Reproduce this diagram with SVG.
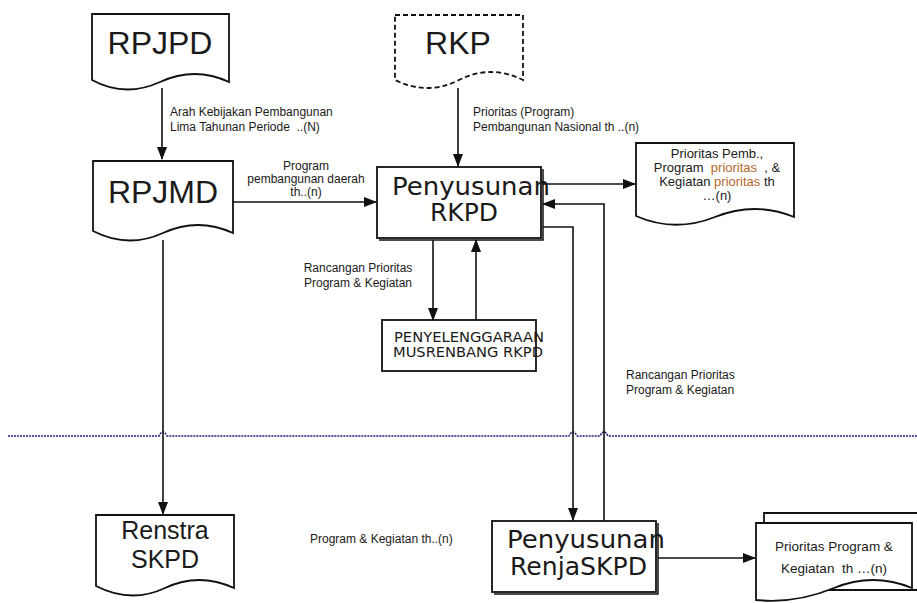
<svg xmlns="http://www.w3.org/2000/svg" width="917" height="603" viewBox="0 0 917 603">
<style>
.doc{fill:#fff;stroke:#111;stroke-width:1.8}
.box{fill:#fff;stroke:#111;stroke-width:1.8}
.sh{fill:none;stroke:#111;stroke-width:1.5}
.big{font-family:"Liberation Sans",Arial,sans-serif;font-size:32px;fill:#1a1a1a}
.ren{font-family:"Liberation Sans",Arial,sans-serif;font-size:25px;fill:#1a1a1a}
.mid{font-family:"Liberation Sans",Arial,sans-serif;font-size:13px;fill:#1a1a1a}
.mid2{font-family:"Liberation Sans",Arial,sans-serif;font-size:13.5px;fill:#1a1a1a}
.lbl{font-family:"Liberation Sans",Arial,sans-serif;font-size:12px;fill:#1a1a1a}
.dv{font-family:"DejaVu Sans",sans-serif;fill:#1a1a1a}
.or{fill:#b5682e}
.con{fill:none;stroke:#111;stroke-width:1.6}
</style>
<defs>
<marker id="ar" markerWidth="13" markerHeight="10" refX="12" refY="5" orient="auto" markerUnits="userSpaceOnUse">
<path d="M0,0 L13,5 L0,10 Z" fill="#111"/>
</marker>
</defs>
<rect width="917" height="603" fill="#fff"/>

<g id="divider">
<path d="M8,436 H159 Q163,428 167,436 H569 Q573,428 577,436 H600 Q604,428 608,436 H917" fill="none" stroke="#1c1c7a" stroke-width="1.6" stroke-dasharray="2,1"/>
</g>

<g id="connectors">
<path class="con" d="M162,88 V159" marker-end="url(#ar)"/>
<path class="con" d="M458,88 V166" marker-end="url(#ar)"/>
<path class="con" d="M233,202 H376" marker-end="url(#ar)"/>
<path class="con" d="M542,184 H635" marker-end="url(#ar)"/>
<path class="con" d="M433,240 V320" marker-end="url(#ar)"/>
<path class="con" d="M476,320 V240" marker-end="url(#ar)"/>
<path class="con" d="M163,240 V514" marker-end="url(#ar)"/>
<path class="con" d="M543,227 H573 V520" marker-end="url(#ar)"/>
<path class="con" d="M604,521 V204 H543" marker-end="url(#ar)"/>
<path class="con" d="M658,558 H755" marker-end="url(#ar)"/>
</g>

<g id="labels">
<text class="lbl" x="170" y="116">Arah Kebijakan Pembangunan</text>
<text class="lbl" x="170" y="131" xml:space="preserve">Lima Tahunan Periode  ..(N)</text>
<text class="lbl" x="473" y="116">Prioritas (Program)</text>
<text class="lbl" x="473" y="131">Pembangunan Nasional th ..(n)</text>
<text class="lbl" x="306" y="170" text-anchor="middle">Program</text>
<text class="lbl" x="306" y="183" text-anchor="middle">pembangunan daerah</text>
<text class="lbl" x="306" y="196" text-anchor="middle">th..(n)</text>
<text class="lbl" x="358" y="272" text-anchor="middle">Rancangan Prioritas</text>
<text class="lbl" x="358" y="287" text-anchor="middle">Program &amp; Kegiatan</text>
<text class="lbl" x="626" y="379">Rancangan Prioritas</text>
<text class="lbl" x="626" y="394">Program &amp; Kegiatan</text>
<text class="lbl" x="310" y="543">Program &amp; Kegiatan th..(n)</text>
</g>

<g id="rpjpd">
<path class="doc" d="M92,14 H229 V82 Q195,66 160,82 T92,80 Z"/>
<text class="big" x="160" y="54" text-anchor="middle">RPJPD</text>
</g>

<g id="rkp">
<path class="doc" d="M395,15 H523 V80 Q491,64 459,80 T395,80 Z" stroke-dasharray="5,3"/>
<text class="big" x="458" y="54" text-anchor="middle">RKP</text>
</g>

<g id="rpjmd">
<path class="doc" d="M93,161 H233 V233 Q198,217 163,233 T93,231 Z"/>
<text class="big" x="163" y="203" text-anchor="middle">RPJMD</text>
</g>

<g id="rkpd">
<path class="sh" d="M543,169 V240 H379"/>
<rect class="box" x="377" y="167" width="164" height="71"/>
<text class="dv" x="392" y="195" font-size="24" textLength="158" lengthAdjust="spacingAndGlyphs">Penyusunan</text>
<text class="dv" x="430" y="221" font-size="24" textLength="68" lengthAdjust="spacingAndGlyphs">RKPD</text>
</g>

<g id="prioritas-pemb">
<path class="doc" d="M636,143 H794 V217 Q755,201 715,217 T636,216 Z"/>
<text class="mid" x="717" y="158" text-anchor="middle">Prioritas Pemb.,</text>
<text class="mid" x="717" y="172" text-anchor="middle" xml:space="preserve">Program  <tspan class="or">prioritas</tspan>  , &amp;</text>
<text class="mid" x="717" y="186" text-anchor="middle">Kegiatan <tspan class="or">prioritas</tspan> th</text>
<text class="mid" x="717" y="200" text-anchor="middle">…(n)</text>
</g>

<g id="musrenbang">
<rect class="box" x="382" y="320" width="154" height="51"/>
<text class="dv" x="394" y="342" font-size="13.5" textLength="150" lengthAdjust="spacingAndGlyphs">PENYELENGGARAAN</text>
<text class="dv" x="393" y="357" font-size="13.5" textLength="150" lengthAdjust="spacingAndGlyphs">MUSRENBANG RKPD</text>
</g>

<g id="renstra">
<path class="doc" d="M96,515 H234 V588 Q199,572 165,588 T96,586 Z"/>
<text class="ren" x="165" y="539" text-anchor="middle">Renstra</text>
<text class="ren" x="165" y="568" text-anchor="middle">SKPD</text>
</g>

<g id="renja">
<path class="sh" d="M658,523 V594 H494"/>
<rect class="box" x="492" y="521" width="164" height="71"/>
<text class="dv" x="507" y="548" font-size="24" textLength="158" lengthAdjust="spacingAndGlyphs">Penyusunan</text>
<text class="dv" x="510" y="575" font-size="24" textLength="137" lengthAdjust="spacingAndGlyphs">RenjaSKPD</text>
</g>

<g id="prioritas-program">
<path class="doc" d="M764,513 H925 V590 H764 Z"/>
<path class="doc" d="M756,523 H912 V588 Q873,572 834,588 T756,600 Z"/>
<text class="mid2" x="834" y="551" text-anchor="middle">Prioritas Program &amp;</text>
<text class="mid2" x="834" y="573" text-anchor="middle" xml:space="preserve">Kegiatan  th …(n)</text>
</g>
</svg>
